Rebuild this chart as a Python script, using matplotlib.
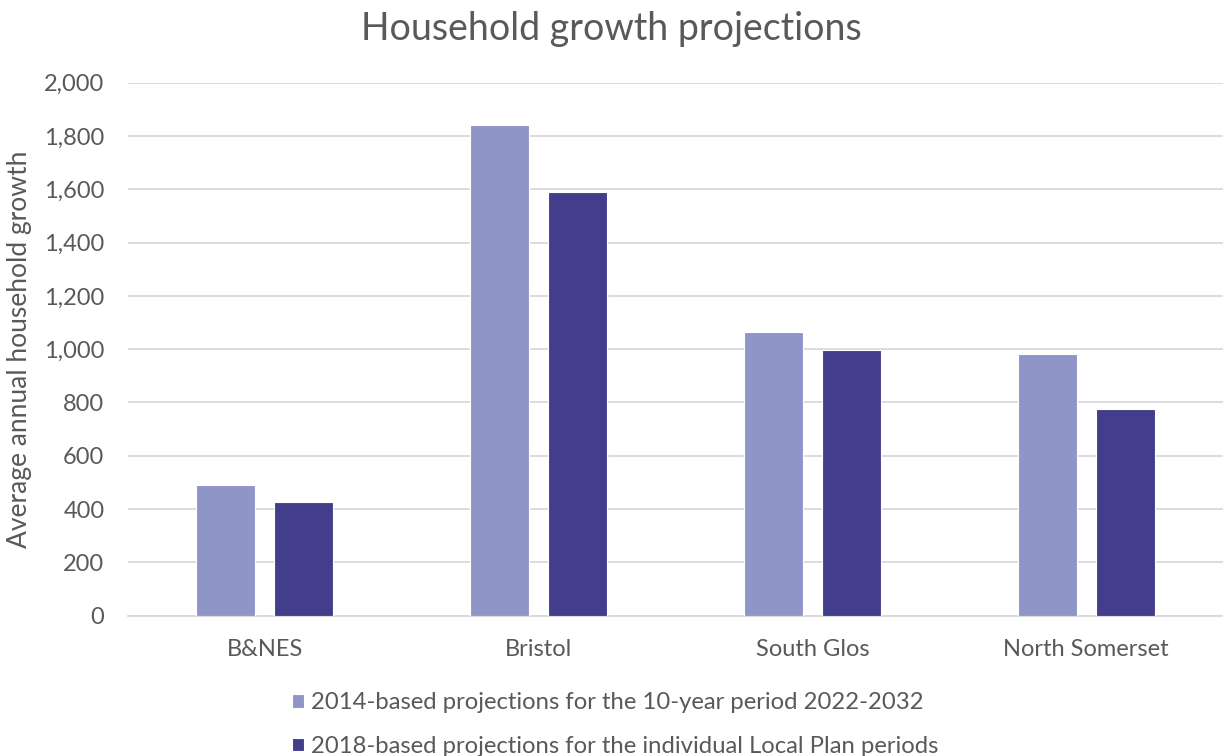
import numpy as np
import matplotlib
matplotlib.use("Agg")
import matplotlib.pyplot as plt
from matplotlib.ticker import FuncFormatter

plt.rcParams['font.family'] = ['Lato', 'DejaVu Sans']

areas = ["B&NES", "Bristol", "South Glos", "North Somerset"]
proj_2014 = [489, 1840, 1063, 983]
proj_2018 = [425, 1591, 997, 774]
series_labels = ["2014-based projections for the 10-year period 2022-2032",
                 "2018-based projections for the individual Local Plan periods"]

TEXT = "#595959"
LIGHT = "#9095C8"
DARK = "#423E8C"

fig = plt.figure(figsize=(12.23, 7.56), dpi=100)
ax = fig.add_axes([128 / 1223, 140.4 / 756, 1095 / 1223, 532.8 / 756])

x = np.arange(len(areas))
w = 0.2155
off = 0.1425
ax.bar(x - off, proj_2014, w, color=LIGHT, edgecolor="white", linewidth=0.8,
       label=series_labels[0], zorder=3)
ax.bar(x + off, proj_2018, w, color=DARK, edgecolor="white", linewidth=0.8,
       label=series_labels[1], zorder=3)

ax.set_xlim(-0.5, len(areas) - 0.5)
ax.set_ylim(0, 2000)
ax.set_yticks(np.arange(0, 2001, 200))
ax.yaxis.set_major_formatter(FuncFormatter(lambda v, p: f"{int(v):,}"))
ax.set_xticks(x)
ax.set_xticklabels(areas)
ax.grid(axis="y", color="#D9D9D9", linewidth=1.3, zorder=0)
for s in ["top", "right", "left"]:
    ax.spines[s].set_visible(False)
ax.spines["bottom"].set_color("#D9D9D9")
ax.spines["bottom"].set_linewidth(1.3)
ax.tick_params(axis="both", length=0, labelsize=17, colors=TEXT)
ax.tick_params(axis="y", pad=17)
ax.tick_params(axis="x", pad=17)

ax.set_ylabel("Average annual household growth", fontsize=19, color=TEXT)
ax.yaxis.set_label_coords(-0.088, 0.5)

fig.suptitle("Household growth projections", fontsize=27, color=TEXT, y=0.985, x=0.5)

leg = fig.legend(loc="upper center", bbox_to_anchor=(0.503, 0.1), ncol=1, frameon=False,
                 fontsize=17.2, handlelength=0.5, handleheight=0.5, handletextpad=0.3,
                 labelspacing=0.95, borderpad=0)
for t in leg.get_texts():
    t.set_color(TEXT)

fig.savefig("out.png", dpi=100)
